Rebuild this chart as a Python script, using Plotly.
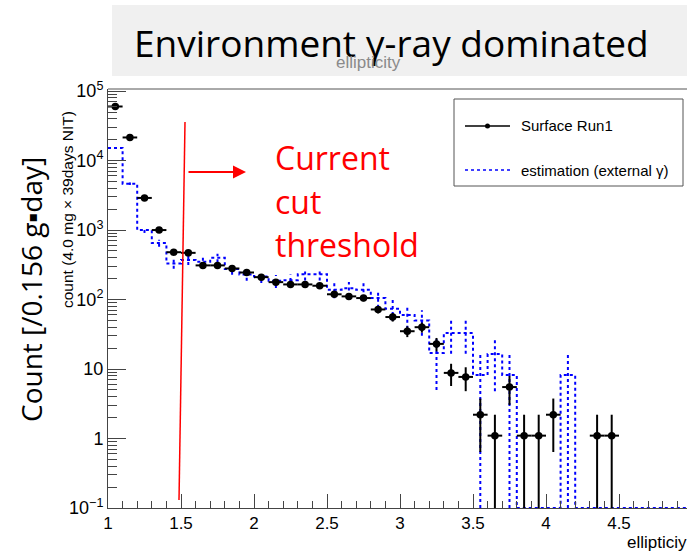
import numpy as np
import plotly.graph_objects as go

# ---------------- data ----------------
bin_edges_lo = [round(1.0 + 0.1 * i, 2) for i in range(40)]
bin_width = 0.1

# Surface Run1 (black points) per bin
run1_counts = [60000, 21500, 2900, 1000, 480, 470, 310, 310, 280, 245,
               210, 178, 165, 165, 158, 119, 111, 105, 72, 56,
               35, 40, 23, 8.8, 7.7, 2.2, 1.1, 5.5, 1.1, 1.1,
               2.2, 0, 0, 1.1, 1.1, 0, 0, 0, 0, 0]
run1_err = [257, 154, 56, 33, 23, 23, 18, 18, 18, 16,
            15, 14, 13.5, 13.5, 13, 11.4, 11, 10.7, 8.9, 7.8,
            6.2, 6.6, 5.0, 3.1, 2.9, 1.56, 1.1, 2.46, 1.1, 1.1,
            1.56, 0, 0, 1.1, 1.1, 0, 0, 0, 0, 0]

# estimation (external gamma), blue dotted histogram
est_counts = [15200, 4650, 1000, 650, 330, 370, 350, 400, 275, 230,
              215, 186, 190, 232, 232, 138, 145, 138, 105, 74,
              60, 50, 17, 33, 33, 8.2, 16.4, 8.2, 0, 0,
              0, 8.2, 0, 0, 0, 0, 0, 0, 0, 0]
est_err = [353, 195, 91, 73, 52, 55, 54, 57, 47, 43,
           42, 39, 39, 44, 44, 34, 34, 34, 29, 25,
           22, 20, 12, 16.4, 16.4, 8.2, 11.6, 8.2, 0, 0,
           0, 8.2, 0, 0, 0, 0, 0, 0, 0, 0]

x_tick_vals = [1, 1.5, 2, 2.5, 3, 3.5, 4, 4.5]
x_tick_text = ["1", "1.5", "2", "2.5", "3", "3.5", "4", "4.5"]
y_tick_vals = [0.1, 1, 10, 100, 1000, 10000, 100000]
y_tick_text = ["10<sup>\u22121</sup>", "1", "10", "10<sup>2</sup>",
               "10<sup>3</sup>", "10<sup>4</sup>", "10<sup>5</sup>"]

title_text = "Environment \u03b3-ray dominated"
legend_names = ["Surface Run1", "estimation (external \u03b3)"]
cut_text_lines = ["Current", "cut", "threshold"]

# ---------------- geometry ----------------
W, H = 687, 556
PL, PR, PT, PB = 108, 687, 89, 508
YMIN_LOG, YMAX_LOG = -1, 5.03
X0 = 1.0
X1 = 1.0 + (PR - PL) / 146.0
YFLOOR = 10 ** YMIN_LOG


def px(xp):
    return (xp - PL) / (PR - PL)


def py(yp):
    return (PB - yp) / (PB - PT)


lo = np.array(bin_edges_lo)
cen = lo + bin_width / 2
r1 = np.array(run1_counts, dtype=float)
r1e = np.array(run1_err, dtype=float)
es = np.array(est_counts, dtype=float)
ese = np.array(est_err, dtype=float)

fig = go.Figure()

# blue step histogram
step_x = list(lo) + [lo[-1] + bin_width]
es_draw = np.where(es > 0, es, YFLOOR)
step_y = list(es_draw) + [es_draw[-1]]
fig.add_trace(go.Scatter(x=step_x, y=step_y, mode="lines", line_shape="hv",
                         line=dict(color="#0000ff", width=2, dash="dot"),
                         showlegend=False, hoverinfo="skip", cliponaxis=True))
# blue error bars
bx, by = [], []
for c, v, e in zip(cen, es, ese):
    if v > 0 and e > 0:
        bx += [c, c, None]
        by += [max(v - e, YFLOOR), v + e, None]
fig.add_trace(go.Scatter(x=bx, y=by, mode="lines",
                         line=dict(color="#0000ff", width=2, dash="dot"),
                         showlegend=False, hoverinfo="skip"))

# black error bars
kx, ky = [], []
for c, v, e in zip(cen, r1, r1e):
    if v > 0:
        kx += [c - bin_width / 2, c + bin_width / 2, None, c, c, None]
        ky += [v, v, None, max(v - e, YFLOOR), v + e, None]
fig.add_trace(go.Scatter(x=kx, y=ky, mode="lines",
                         line=dict(color="black", width=2),
                         showlegend=False, hoverinfo="skip"))
mask = r1 > 0
fig.add_trace(go.Scatter(x=cen[mask], y=r1[mask], mode="markers",
                         marker=dict(color="black", size=7.5, symbol="circle"),
                         showlegend=False, name=legend_names[0]))

shapes = []
annotations = []

# title grey box
shapes.append(dict(type="rect", xref="paper", yref="paper",
                   x0=px(112), x1=px(690), y0=py(76), y1=py(5),
                   fillcolor="#f0f0f0", line=dict(width=0), layer="below"))
annotations.append(dict(xref="paper", yref="paper", x=px(132), y=py(42),
                        xanchor="left", yanchor="middle", showarrow=False,
                        text=title_text,
                        font=dict(family="Open Sans", size=37, color="black")))
annotations.append(dict(xref="paper", yref="paper", x=px(368), y=py(62),
                        xanchor="center", yanchor="middle", showarrow=False,
                        text="ellipticity",
                        font=dict(family="Liberation Sans", size=17, color="#8a8a8a")))

# top frame line
shapes.append(dict(type="line", xref="paper", yref="paper",
                   x0=0, x1=1, y0=1, y1=1, line=dict(color="#555", width=1)))

# y titles
annotations.append(dict(xref="paper", yref="paper", x=px(67), y=py(210),
                        xanchor="center", yanchor="middle", showarrow=False,
                        textangle=-90,
                        text="count (4.0 mg \u00d7 39days NIT)",
                        font=dict(family="Liberation Sans", size=15.5, color="black")))
annotations.append(dict(xref="paper", yref="paper", x=px(31), y=py(290),
                        xanchor="center", yanchor="middle", showarrow=False,
                        textangle=-90,
                        text="Count [/0.156 g\u25aaday]",
                        font=dict(family="Open Sans", size=28, color="black")))

# x title
annotations.append(dict(xref="paper", yref="paper", x=px(625), y=py(542),
                        xanchor="left", yanchor="middle", showarrow=False,
                        text="ellipticiy",
                        font=dict(family="Liberation Sans", size=17, color="black")))

# red threshold line + arrow + text
shapes.append(dict(type="line", xref="paper", yref="paper",
                   x0=px(185), y0=py(122), x1=px(179), y1=py(500),
                   line=dict(color="#ff0000", width=1.5)))
annotations.append(dict(xref="paper", yref="paper",
                        x=px(246), y=py(172), ax=-59, ay=0,
                        axref="pixel", ayref="pixel",
                        showarrow=True, arrowhead=2, arrowsize=1.3, arrowwidth=2,
                        arrowcolor="#ff0000", text=""))
for line_text, yc in zip(cut_text_lines, [157, 201, 245]):
    annotations.append(dict(xref="paper", yref="paper", x=px(273), y=py(yc),
                            xanchor="left", yanchor="middle", showarrow=False,
                            text=line_text,
                            font=dict(family="Open Sans", size=32, color="#ff0000")))

# legend box (manual)
shapes.append(dict(type="rect", xref="paper", yref="paper",
                   x0=px(454), x1=px(683), y0=py(186), y1=py(99),
                   fillcolor="white", line=dict(color="#555", width=1)))
shapes.append(dict(type="line", xref="paper", yref="paper",
                   x0=px(465), x1=px(510), y0=py(126), y1=py(126),
                   line=dict(color="black", width=1.5)))
shapes.append(dict(type="circle", xref="paper", yref="paper",
                   x0=px(485), x1=px(490), y0=py(128.5), y1=py(123.5),
                   fillcolor="black", line=dict(color="black", width=0)))
shapes.append(dict(type="line", xref="paper", yref="paper",
                   x0=px(465), x1=px(510), y0=py(170), y1=py(170),
                   line=dict(color="#0000ff", width=1.5, dash="dot")))
annotations.append(dict(xref="paper", yref="paper", x=px(519), y=py(126),
                        xanchor="left", yanchor="middle", showarrow=False,
                        text=legend_names[0],
                        font=dict(family="Liberation Sans", size=15, color="black")))
annotations.append(dict(xref="paper", yref="paper", x=px(519), y=py(170),
                        xanchor="left", yanchor="middle", showarrow=False,
                        text=legend_names[1],
                        font=dict(family="Liberation Sans", size=15, color="black")))

y_minor = [m * 10 ** d for d in range(-1, 5) for m in range(2, 10)]

fig.update_layout(
    width=W, height=H,
    margin=dict(l=PL, r=W - PR, t=PT, b=H - PB, pad=0),
    paper_bgcolor="white", plot_bgcolor="white",
    showlegend=False,
    shapes=shapes, annotations=annotations,
    xaxis=dict(range=[X0, X1], tickvals=x_tick_vals, ticktext=x_tick_text,
               ticks="inside", ticklen=14, tickcolor="#444", tickwidth=1,
               showline=True, linecolor="#444", linewidth=1,
               showgrid=False, zeroline=False,
               tickfont=dict(family="Liberation Sans", size=17, color="black"),
               minor=dict(dtick=0.1, tick0=1, ticks="inside", ticklen=7,
                          tickcolor="#444", showgrid=False)),
    yaxis=dict(type="log", range=[YMIN_LOG, YMAX_LOG],
               tickvals=y_tick_vals, ticktext=y_tick_text,
               ticks="inside", ticklen=18, tickcolor="#444", tickwidth=1,
               showline=True, linecolor="#444", linewidth=1,
               showgrid=False, zeroline=False,
               tickfont=dict(family="Liberation Sans", size=18, color="black"),
               minor=dict(tickvals=y_minor, ticks="inside", ticklen=9,
                          tickcolor="#444", showgrid=False)),
)

fig.write_html("out.html")
